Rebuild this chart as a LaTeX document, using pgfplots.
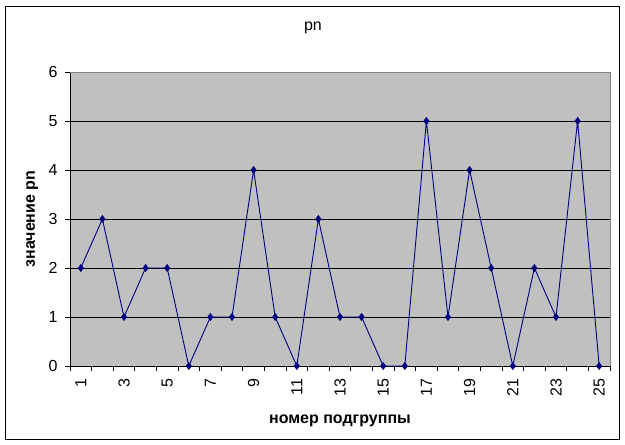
\documentclass[border=0pt]{standalone}
\usepackage{fontspec}
\setmainfont{Liberation Sans}
\usepackage{pgfplots}
\pgfplotsset{compat=1.18}

\definecolor{plotgray}{RGB}{192,192,192}
\definecolor{navyline}{RGB}{0,0,128}
\definecolor{bordergray}{RGB}{128,128,128}

\newcommand{\chartfont}{\fontsize{16}{19}\selectfont}

\begin{document}
\begin{tikzpicture}
\begin{axis}[
  scale only axis,
  width=540pt,
  height=294pt,
  xmin=0.5, xmax=25.5,
  ymin=0, ymax=6,
  axis background/.style={fill=plotgray},
  axis x line*=bottom,
  axis y line*=left,
  axis line style={black, line width=0.8pt},
  tick align=outside,
  major tick length=5pt,
  tick style={black, line width=0.8pt},
  xtick={0.5,1.5,...,25.5},
  xticklabels={},
  extra x ticks={1,3,...,25},
  extra x tick style={major tick length=0pt},
  x tick label style={yshift=-9pt, rotate=90, anchor=east, font=\chartfont},
  ytick={0,1,...,6},
  y tick label style={font=\chartfont, xshift=-4pt},
  ymajorgrids,
  major grid style={black, line width=0.8pt},
  /pgf/number format/assume math mode=true,
  clip=false,
]
\addplot[
  color=navyline,
  line width=0.9pt,
  mark=diamond*,
  mark size=3.3pt,
  mark options={fill=navyline, draw=navyline}
] coordinates {
  (1,2) (2,3) (3,1) (4,2) (5,2) (6,0) (7,1) (8,1) (9,4) (10,1)
  (11,0) (12,3) (13,1) (14,1) (15,0) (16,0) (17,5) (18,1) (19,4) (20,2)
  (21,0) (22,2) (23,1) (24,5) (25,0)
};
\draw[bordergray, line width=0.8pt] (rel axis cs:0,1) -- (rel axis cs:1,1) -- (rel axis cs:1,0);
\end{axis}
\node[anchor=base, font=\chartfont] at (243pt,335pt) {pn};
\node[anchor=base, font=\chartfont\bfseries] at (270pt,-57pt) {номер подгруппы};
\node[anchor=base, rotate=90, font=\chartfont\bfseries] at (-35pt,147pt) {значение pn};
\draw[black, line width=0.8pt] (-65pt,-73pt) rectangle (549pt,360pt);
\pgfresetboundingbox
\useasboundingbox (-70pt,-79pt) rectangle (555pt,366pt);
\end{tikzpicture}
\end{document}
